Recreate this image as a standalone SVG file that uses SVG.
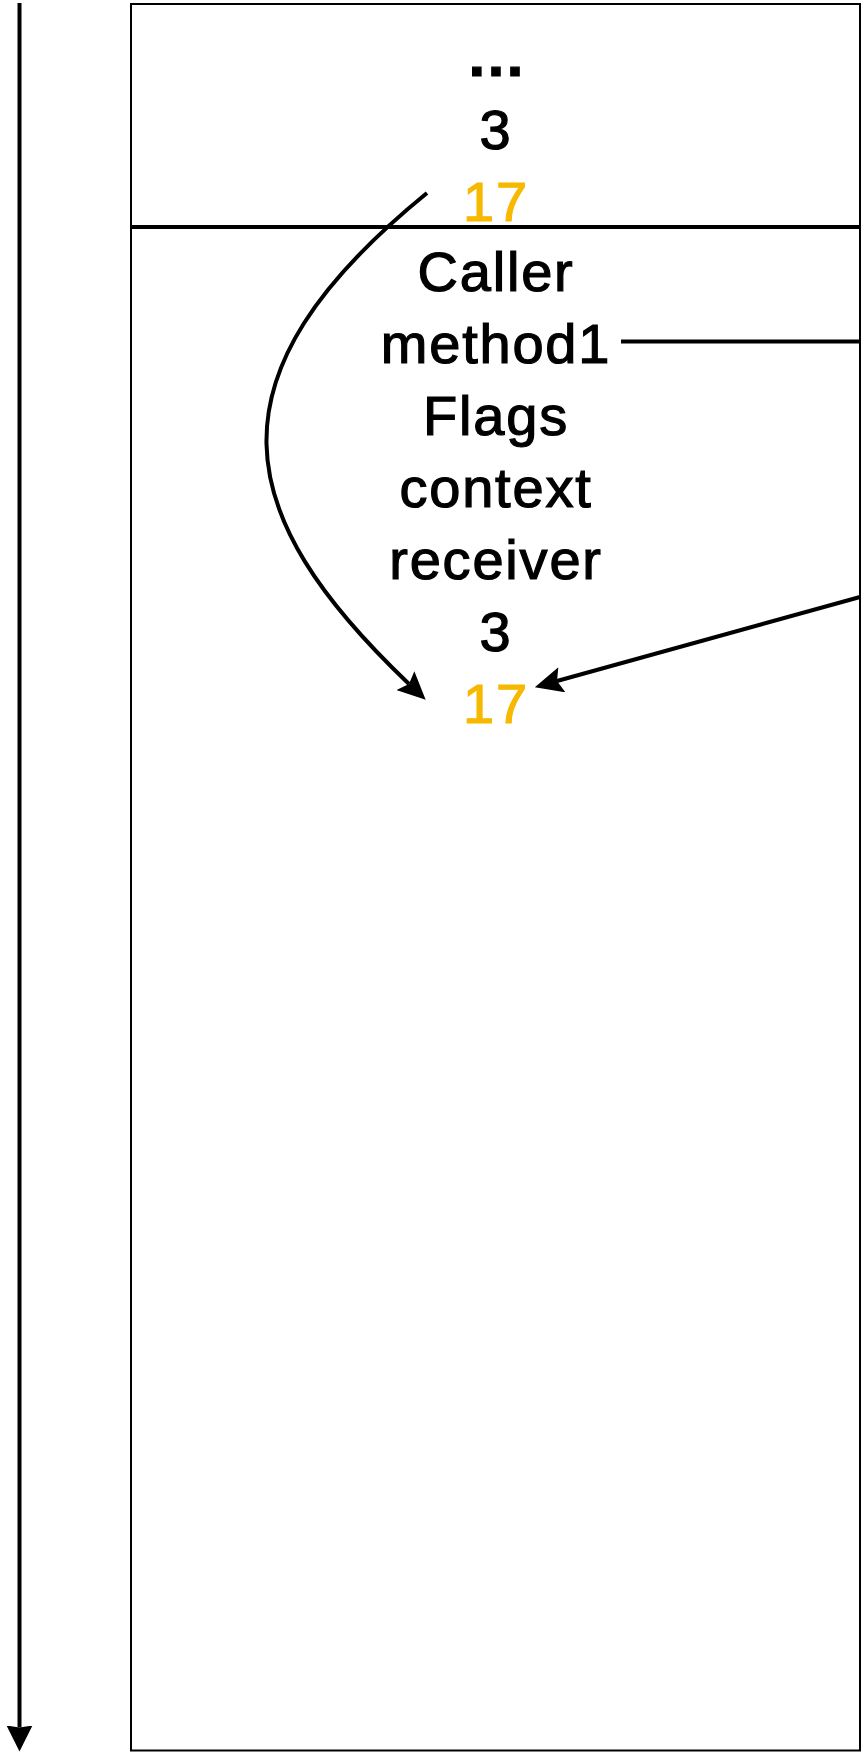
<svg xmlns="http://www.w3.org/2000/svg" width="862" height="1752" viewBox="0 0 862 1752">
<style>
.t{font-family:"Liberation Sans",Arial,sans-serif;font-size:56px;text-anchor:middle;fill:#000;stroke:#000;stroke-width:1.2;letter-spacing:1.8px}
.o{fill:#F7B900;stroke:#F7B900}
.c{fill:none;stroke:#000;stroke-width:4}
</style>
<defs>
<marker id="ah" markerUnits="userSpaceOnUse" markerWidth="28" markerHeight="26" viewBox="0 0 28 26" refX="5" refY="13" orient="auto">
<path d="M0,0 L28,13 L0,26 L5,13 Z" fill="#000"/>
</marker>
<marker id="ahb" markerUnits="userSpaceOnUse" markerWidth="26" markerHeight="26" viewBox="0 0 26 26" refX="2" refY="13" orient="auto">
<path d="M0,0 L26,13 L0,26 L2,13 Z" fill="#000"/>
</marker>
</defs>
<rect width="862" height="1752" fill="#fff"/>
<g id="time-axis">
<path class="c" d="M19.5,3 L19.5,1727.5" marker-end="url(#ahb)"/>
</g>
<g id="stack">
<rect x="131" y="4" width="729" height="1746.5" fill="none" stroke="#000" stroke-width="2"/>
<line x1="130" y1="227" x2="860" y2="227" stroke="#000" stroke-width="4"/>
</g>
<g id="caller-frame">
<text class="t" x="496" y="76" style="font-weight:bold;letter-spacing:0;font-size:60px">…</text>
<text class="t" x="496" y="149">3</text>
<text class="t o" x="496" y="221">17</text>
</g>
<g id="callee-frame">
<text class="t" x="496" y="291">Caller</text>
<text class="t" x="496" y="363">method1</text>
<text class="t" x="496" y="435">Flags</text>
<text class="t" x="496" y="507">context</text>
<text class="t" x="496" y="579">receiver</text>
<text class="t" x="496" y="651">3</text>
<text class="t o" x="496" y="723">17</text>
</g>
<g id="connectors">
<path class="c" d="M427,193 C201,377 231,514.5 409,684" marker-end="url(#ah)"/>
<path class="c" d="M621,341.5 L860,341.5"/>
<path class="c" d="M860,597 L557,681" marker-end="url(#ah)"/>
</g>
</svg>
